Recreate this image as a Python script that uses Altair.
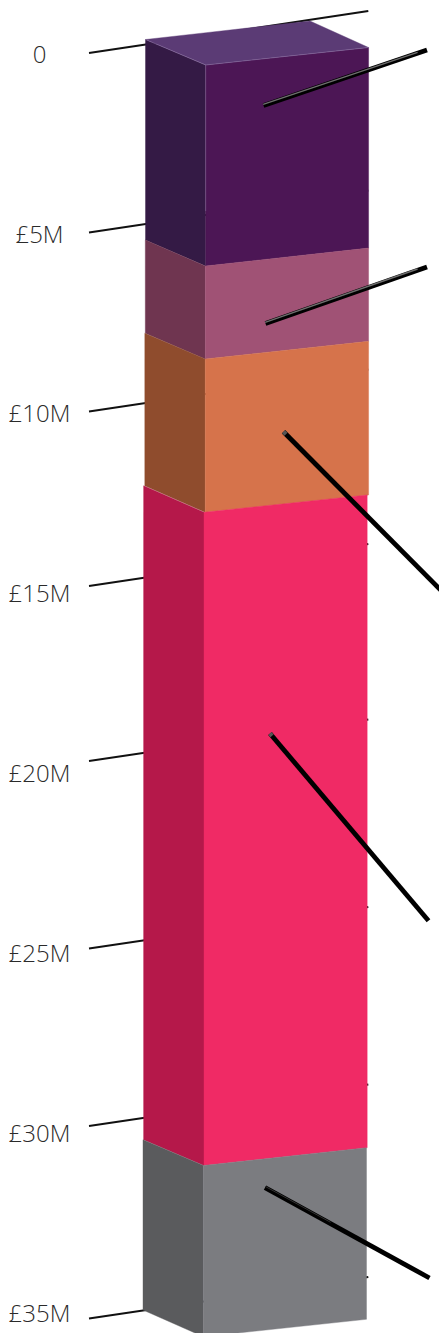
import altair as alt
import pandas as pd

# Stack geometry, in picture units
SEGMENTS = ["purple", "mauve", "orange", "red", "grey"]
LEFT_X = [145.5, 145.3, 144.8, 143.6, 143.0]
MID_X = [205.7, 205.3, 205.2, 204.0, 203.4]
RIGHT_X = [368.6, 368.6, 368.6, 367.2, 366.5]
LEFT_TOP = [39.5, 240.0, 333.3, 485.8, 1139.7]
LEFT_BOT = [240.0, 333.3, 485.8, 1139.7, 1310.0]
MID_TOP = [65.0, 266.0, 359.0, 512.3, 1165.5]
MID_BOT = [266.0, 359.0, 512.3, 1165.5, 1336.7]
RIGHT_TOP = [47.5, 248.0, 341.3, 495.0, 1147.7]
RIGHT_BOT = [248.0, 341.3, 495.0, 1147.7, 1319.3]
FRONT_COLORS = ["#4c1655", "#a05275", "#d6734b", "#f02a65", "#7b7c80"]
SIDE_COLORS = ["#341a45", "#6f3550", "#8f4c2d", "#b5184a", "#5a5b5d"]

# Top face, upper and lower outlines
LID_X = [145.5, 206.0, 310.0, 368.6]
LID_UPPER = [39.5, 32.7, 21.0, 47.5]
LID_LOWER = [39.5, 65.0, 53.8, 47.5]
LID_COLOR = "#5b3b75"

# Axis tick lines and labels
TICK_LABELS = ["0", "£5M", "£10M", "£15M", "£20M", "£25M", "£30M", "£35M"]
TICK_LEFT_Y = [53.0, 232.5, 411.5, 586.0, 761.0, 948.5, 1126.0, 1318.5]
TICK_RIGHT_Y = [11.0, 190.5, 369.5, 544.0, 719.5, 907.0, 1084.5, 1277.0]
TICK_X0 = 89.0
TICK_X1 = 368.3
LABEL_X = 39.5
LABEL_BASE = [62.5, 243.0, 421.7, 602.0, 781.7, 962.0, 1142.0, 1322.0]

# Callout lines
CALL_X0 = [263.5, 265.5, 283.5, 270.0, 265.0]
CALL_Y0 = [105.5, 323.5, 431.7, 733.5, 1187.7]
CALL_X1 = [427.0, 427.0, 449.0, 428.5, 429.5]
CALL_Y1 = [50.0, 267.0, 598.5, 920.7, 1278.0]

# Bevel highlights on the callout lines
HI_X0 = [263.1, 265.1, 283.5, 270.0, 265.6]
HI_Y0 = [104.4, 322.4, 431.7, 733.5, 1186.6]
HI_X1 = [417.6, 417.6, 286.0, 272.0, 330.6]
HI_Y1 = [52.3, 269.0, 434.2, 735.8, 1222.3]
HI_COLORS = ["#6e6e6e", "#6e6e6e", "#555555", "#555555", "#333333"]
HI_WIDTHS = [1.4, 1.4, 4.2, 4.2, 1.0]

PLOT_W = 431
PLOT_H = 1325
x_s = alt.Scale(domain=[8, 8 + PLOT_W], nice=False, zero=False)
y_s = alt.Scale(domain=[8, 8 + PLOT_H], nice=False, zero=False, reverse=True)
X = lambda f: alt.X(f, type="quantitative", scale=x_s, axis=None)
Y = lambda f: alt.Y(f, type="quantitative", scale=y_s, axis=None, stack=None)

faces = []
for i, s in enumerate(SEGMENTS):
    faces.append(dict(face=s + "-side", x=LEFT_X[i], y=LEFT_TOP[i], y2=LEFT_BOT[i], c=SIDE_COLORS[i]))
    faces.append(dict(face=s + "-side", x=MID_X[i], y=MID_TOP[i], y2=MID_BOT[i], c=SIDE_COLORS[i]))
    faces.append(dict(face=s + "-front", x=MID_X[i], y=MID_TOP[i], y2=MID_BOT[i], c=FRONT_COLORS[i]))
    faces.append(dict(face=s + "-front", x=RIGHT_X[i], y=RIGHT_TOP[i], y2=RIGHT_BOT[i], c=FRONT_COLORS[i]))
for x, u, l in zip(LID_X, LID_UPPER, LID_LOWER):
    faces.append(dict(face="lid", x=x, y=u, y2=l, c=LID_COLOR))
faces = pd.DataFrame(faces)

area = alt.Chart(faces).mark_area(clip=True, interpolate="linear", strokeWidth=0.4).encode(
    x=X("x"), y=Y("y"), y2="y2:Q",
    detail="face:N",
    color=alt.Color("c:N", scale=None),
    stroke=alt.Stroke("c:N", scale=None),
)

ticks = []
for i, t in enumerate(TICK_LABELS):
    ticks.append(dict(t=t, x=TICK_X0, y=TICK_LEFT_Y[i]))
    ticks.append(dict(t=t, x=TICK_X1, y=TICK_RIGHT_Y[i]))
tick_lines = alt.Chart(pd.DataFrame(ticks)).mark_line(
    color="#111111", strokeWidth=2, clip=True
).encode(x=X("x"), y=Y("y"), detail="t:N")

edges = pd.DataFrame([
    dict(e="lid", o=0, x=LEFT_X[0], y=LEFT_TOP[0]),
    dict(e="lid", o=1, x=MID_X[0], y=MID_TOP[0]),
    dict(e="lid", o=2, x=RIGHT_X[0], y=RIGHT_TOP[0]),
    dict(e="mid", o=0, x=MID_X[0], y=MID_TOP[0]),
    dict(e="mid", o=1, x=MID_X[0], y=MID_BOT[0] - 55),
])
edge_lines = alt.Chart(edges).mark_line(color="#a78fbe", strokeWidth=0.5, opacity=0.75).encode(
    x=X("x"), y=Y("y"), detail="e:N", order="o:Q"
)

calls = []
for i in range(len(CALL_X0)):
    calls.append(dict(k=i, x=CALL_X0[i], y=CALL_Y0[i]))
    calls.append(dict(k=i, x=CALL_X1[i], y=CALL_Y1[i]))
call_lines = alt.Chart(pd.DataFrame(calls)).mark_line(
    color="#000000", strokeWidth=4.8, clip=True
).encode(x=X("x"), y=Y("y"), detail="k:N")

highs = []
for i in range(len(HI_X0)):
    highs.append(dict(k=i, x=HI_X0[i], y=HI_Y0[i], c=HI_COLORS[i], w=HI_WIDTHS[i]))
    highs.append(dict(k=i, x=HI_X1[i], y=HI_Y1[i], c=HI_COLORS[i], w=HI_WIDTHS[i]))
high_lines = alt.Chart(pd.DataFrame(highs)).mark_line(clip=True).encode(
    x=X("x"), y=Y("y"), detail="k:N",
    color=alt.Color("c:N", scale=None),
    strokeWidth=alt.StrokeWidth("w:Q", scale=None),
)

labels = alt.Chart(pd.DataFrame(dict(t=TICK_LABELS, x=[LABEL_X] * 8, y=LABEL_BASE))).mark_text(
    font="Open Sans", fontWeight=300, fontSize=24, color="#2a2a2a", align="center", baseline="alphabetic"
).encode(x=X("x"), y=Y("y"), text="t:N")

chart = alt.layer(tick_lines, area, edge_lines, call_lines, high_lines, labels).properties(
    width=PLOT_W, height=PLOT_H, padding=0,
    autosize=alt.AutoSizeParams(type="none"),
    background="white",
).configure_view(stroke=None)

chart.save("out.html", embed_options={"renderer": "svg", "actions": False})
